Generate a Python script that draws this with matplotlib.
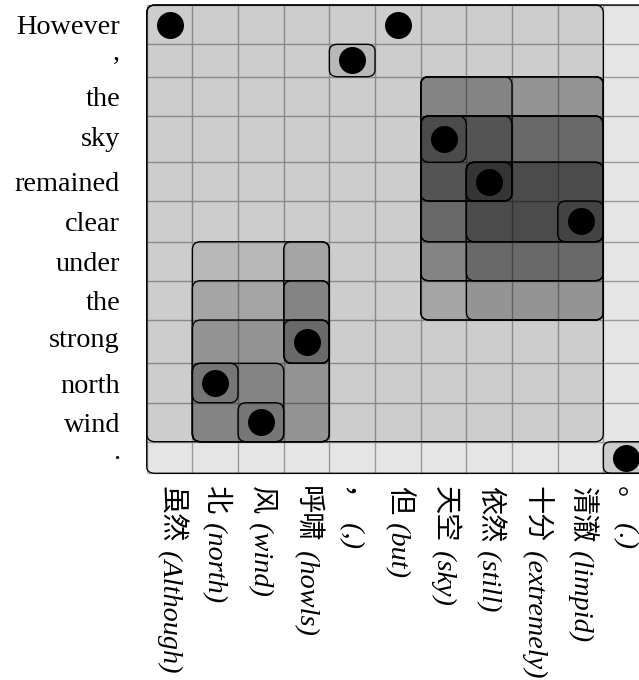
import numpy as np
import matplotlib
matplotlib.use("Agg")
import matplotlib.pyplot as plt
from matplotlib.patches import FancyBboxPatch
from matplotlib.textpath import TextPath
from matplotlib.font_manager import FontProperties
import matplotlib.transforms as mtransforms

# ---------------- data ----------------
src_words = ['虽然', '北', '风', '呼啸', '，', '但', '天空', '依然', '十分', '清澈', '。']
src_gloss = ['Although', 'north', 'wind', 'howls', ',', 'but', 'sky', 'still',
             'extremely', 'limpid', '.']
tgt_words = ['However', ',', 'the', 'sky', 'remained', 'clear', 'under', 'the',
             'strong', 'north', 'wind', '.']

# word alignment points (source index, target index)
align_src = [0, 5, 4, 6, 7, 9, 3, 1, 2, 10]
align_tgt = [0, 0, 1, 3, 4, 5, 8, 9, 10, 11]

# phrase pairs: source span [s0, s1], target span [t0, t1] (inclusive)
phrase_s0 = [0, 0, 4, 10,
             6, 7, 9, 6, 6, 7, 7, 7, 6, 6, 6, 6, 6, 6,
             1, 3, 1, 3, 1, 3, 1, 1, 2]
phrase_s1 = [10, 9, 4, 10,
             6, 7, 9, 7, 7, 9, 9, 9, 9, 9, 9, 9, 9, 9,
             3, 3, 3, 3, 3, 3, 2, 1, 2]
phrase_t0 = [0, 0, 1, 11,
             3, 4, 5, 3, 2, 4, 4, 4, 3, 2, 3, 2, 3, 2,
             6, 6, 7, 7, 8, 8, 9, 9, 10]
phrase_t1 = [11, 10, 1, 11,
             3, 4, 5, 4, 4, 5, 6, 7, 5, 5, 6, 6, 7, 7,
             10, 8, 10, 8, 10, 8, 10, 9, 10]

# ---------------- layout ----------------
W, H, DPI = 639, 680, 100
FS = 20.3
grid_left, grid_right, grid_top = 146.7, 649.0, 5.0
row_heights = [39.3, 32.4, 39.3, 46.3, 38.7, 40.7, 39.0, 39.3, 43.3, 39.4, 39.0, 31.6]
grid_bottom = grid_top + sum(row_heights)

n_src, n_tgt = len(src_words), len(tgt_words)

fig = plt.figure(figsize=(W / DPI, H / DPI), dpi=DPI)
fig.patch.set_facecolor('white')
ax = fig.add_axes([grid_left / W, 1 - grid_bottom / H,
                   (grid_right - grid_left) / W, (grid_bottom - grid_top) / H])

edges_idx = np.arange(n_tgt + 1, dtype=float)
edges_px = np.concatenate([[0.0], np.cumsum(row_heights)])


def fwd(y):
    y = np.asarray(y, dtype=float)
    out = np.interp(y, edges_idx, edges_px)
    out = np.where(y < 0, y * row_heights[0], out)
    out = np.where(y > n_tgt, edges_px[-1] + (y - n_tgt) * row_heights[-1], out)
    return out


def inv(p):
    p = np.asarray(p, dtype=float)
    out = np.interp(p, edges_px, edges_idx)
    out = np.where(p < 0, p / row_heights[0], out)
    out = np.where(p > edges_px[-1], n_tgt + (p - edges_px[-1]) / row_heights[-1], out)
    return out


ax.set_xlim(0, n_src)
ax.set_yscale('function', functions=(fwd, inv))
ax.set_ylim(n_tgt, 0)
ax.axis('off')

# grid lines
ax.vlines(np.arange(n_src + 1), 0, n_tgt, color='#ababab', lw=1.0, zorder=1, clip_on=False)
ax.hlines(np.arange(n_tgt + 1), 0, n_src, color='#ababab', lw=1.0, zorder=1, clip_on=False)

# phrase boxes
for s0, s1, t0, t1 in zip(phrase_s0, phrase_s1, phrase_t0, phrase_t1):
    p = FancyBboxPatch((s0, t0), s1 - s0 + 1, t1 - t0 + 1,
                       boxstyle='round,pad=0,rounding_size=0.18',
                       mutation_aspect=1.17,
                       facecolor=(0, 0, 0, 0.1), edgecolor='black', lw=0.95,
                       zorder=2, clip_on=False)
    ax.add_patch(p)

# alignment dots
ax.scatter(np.array(align_src) + 0.5, np.array(align_tgt) + 0.5, s=378,
           c='black', linewidths=0, zorder=4, clip_on=False)

# target (English) labels on the left, ink vertically centred on each row
fp_rm = FontProperties(family='Liberation Serif', size=FS)
ytrans = ax.get_yaxis_transform()
for i, w in enumerate(tgt_words):
    ext = TextPath((0, 0), w, size=FS, prop=fp_rm).get_extents()
    yc_px = (ext.y0 + ext.y1) / 2 * DPI / 72.0
    tr = mtransforms.offset_copy(ytrans, fig=fig, x=-26.7, y=-yc_px, units='dots')
    ax.text(0, i + 0.5, w, transform=tr, ha='right', va='baseline',
            fontsize=FS, family='Liberation Serif')

# source (Chinese) labels at the bottom, rotated
xtrans = ax.get_xaxis_transform()
pad_top = 13.0
base_dx = -7.0
zh_texts = []
for i, w in enumerate(src_words):
    tr = mtransforms.offset_copy(xtrans, fig=fig, x=base_dx, y=-pad_top, units='dots')
    t = ax.text(i + 0.5, 0, w, transform=tr, rotation=-90, rotation_mode='anchor',
                ha='left', va='baseline', fontsize=FS,
                family=['Noto Sans CJK SC', 'DejaVu Sans'])
    zh_texts.append(t)

fig.canvas.draw()
renderer = fig.canvas.get_renderer()
for i, g in enumerate(src_gloss):
    length = zh_texts[i].get_window_extent(renderer).height
    tr = mtransforms.offset_copy(xtrans, fig=fig, x=base_dx, y=-pad_top - length, units='dots')
    ax.text(i + 0.5, 0, ' (' + g + ')', transform=tr, rotation=-90, rotation_mode='anchor',
            ha='left', va='baseline', fontsize=FS, family='Liberation Serif',
            style='italic')

fig.savefig('out.png', dpi=DPI, facecolor='white')
